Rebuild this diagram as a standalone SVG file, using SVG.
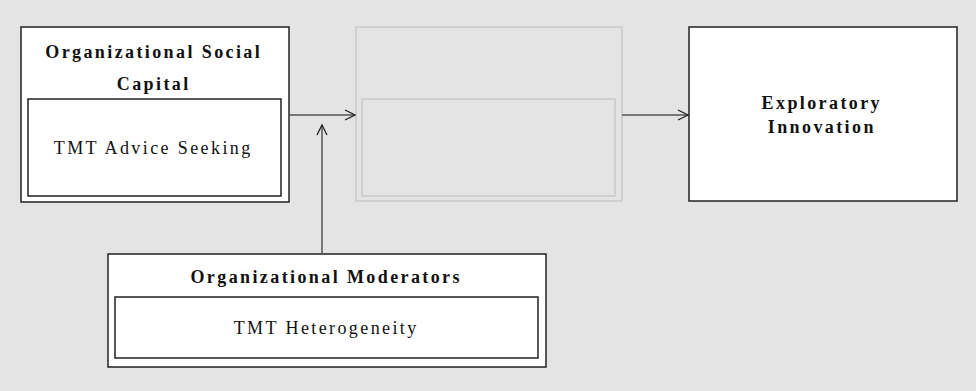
<svg xmlns="http://www.w3.org/2000/svg" width="976" height="391" viewBox="0 0 976 391">
<defs>
<style>
.box{fill:#ffffff;stroke:#222222;stroke-width:1.5}
.ghost{fill:none;stroke:#c9c9c9;stroke-width:1.5}
.title{font-family:"Liberation Serif","Times New Roman",serif;font-size:18px;font-weight:bold;letter-spacing:2.4px;fill:#111111;text-anchor:middle}
.label{font-family:"Liberation Serif","Times New Roman",serif;font-size:18px;letter-spacing:2.4px;fill:#111111;text-anchor:middle}
.conn{stroke:#555555;stroke-width:1.5;fill:none}
.head{stroke:#222222;stroke-width:1.3;fill:none}
</style>
<marker id="arrow" markerWidth="14" markerHeight="14" refX="11" refY="6" orient="auto" markerUnits="userSpaceOnUse">
<path d="M1,1 L11,6 L1,11" class="head"/>
</marker>
</defs>
<rect x="0" y="0" width="976" height="391" fill="#e4e4e4"/>
<g id="social-capital">
<rect class="box" x="21" y="27" width="268" height="175"/>
<text class="title" x="153.7" y="58">Organizational Social</text>
<text class="title" x="153.7" y="90">Capital</text>
<rect class="box" x="28" y="99" width="253" height="97"/>
<text class="label" x="153.2" y="154">TMT Advice Seeking</text>
</g>
<g id="mediator">
<rect class="ghost" x="356" y="27" width="266" height="174"/>
<rect class="ghost" x="362" y="99" width="253" height="97"/>
</g>
<g id="exploratory-innovation">
<rect class="box" x="689" y="27" width="268" height="174"/>
<text class="title" x="821.8" y="109">Exploratory</text>
<text class="title" x="821.8" y="133">Innovation</text>
</g>
<g id="moderators">
<rect class="box" x="108" y="254" width="438" height="113"/>
<text class="title" x="326.2" y="283">Organizational Moderators</text>
<rect class="box" x="115" y="297" width="423" height="61"/>
<text class="label" x="326.2" y="334">TMT Heterogeneity</text>
</g>
<g id="connectors">
<line class="conn" x1="289" y1="115" x2="355" y2="115" marker-end="url(#arrow)"/>
<line class="conn" x1="622" y1="115" x2="688" y2="115" marker-end="url(#arrow)"/>
<line class="conn" x1="322" y1="254" x2="322" y2="125" marker-end="url(#arrow)"/>
</g>
</svg>
